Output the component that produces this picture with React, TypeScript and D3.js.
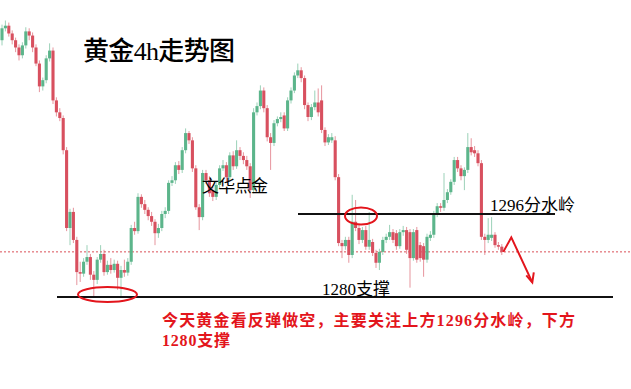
import React from 'react';
import * as d3 from 'd3';

// Gold 4h candles: [open, high, low, close]
const candles: [number, number, number, number][] = [
  [1329.5, 1332.5, 1328.5, 1331.8], [1331.8, 1333.3, 1331.2, 1332.3], [1332.3, 1332.9, 1330.2, 1330.8],
  [1330.8, 1331.4, 1328.7, 1329.5], [1329.5, 1330.0, 1327.2, 1328.1], [1328.1, 1328.7, 1325.6, 1326.6],
  [1326.6, 1329.1, 1326.0, 1328.5], [1328.5, 1332.0, 1327.9, 1331.2], [1331.2, 1331.8, 1329.5, 1330.4],
  [1330.4, 1331.0, 1327.2, 1328.1], [1328.1, 1328.7, 1324.5, 1325.0], [1325.0, 1325.6, 1319.5, 1320.6],
  [1320.6, 1322.3, 1319.8, 1321.8], [1321.8, 1326.6, 1321.2, 1326.0], [1326.0, 1328.9, 1325.4, 1327.5],
  [1327.5, 1328.1, 1317.2, 1317.9], [1317.9, 1318.5, 1314.8, 1315.6], [1315.6, 1316.4, 1313.9, 1314.5],
  [1314.5, 1315.0, 1307.5, 1308.3], [1308.3, 1308.9, 1292.7, 1293.3], [1293.3, 1297.0, 1290.0, 1296.4],
  [1296.4, 1297.2, 1290.4, 1291.0], [1291.0, 1291.6, 1282.3, 1284.8], [1284.8, 1286.8, 1282.9, 1284.5],
  [1284.5, 1287.5, 1283.9, 1286.8], [1286.8, 1290.0, 1286.2, 1287.7], [1287.7, 1288.3, 1283.3, 1284.3],
  [1284.3, 1285.0, 1280.0, 1283.3], [1283.3, 1287.7, 1282.5, 1287.2], [1287.2, 1290.0, 1286.6, 1288.3],
  [1288.3, 1289.1, 1284.1, 1284.8], [1284.8, 1287.0, 1284.3, 1286.2], [1286.2, 1287.5, 1284.5, 1285.2],
  [1285.2, 1287.2, 1284.7, 1286.4], [1286.4, 1287.0, 1281.4, 1283.7], [1283.7, 1286.0, 1280.0, 1285.2],
  [1285.2, 1287.2, 1283.9, 1284.7], [1284.7, 1287.5, 1284.1, 1286.8], [1286.8, 1293.9, 1286.2, 1293.3],
  [1293.3, 1294.5, 1292.0, 1292.7], [1292.7, 1300.0, 1292.2, 1299.3], [1299.3, 1299.8, 1297.2, 1297.9],
  [1297.9, 1298.7, 1296.0, 1296.8], [1296.8, 1297.3, 1294.8, 1295.6], [1295.6, 1296.4, 1293.7, 1294.5],
  [1294.5, 1295.0, 1290.0, 1292.3], [1292.3, 1294.1, 1291.4, 1293.3], [1293.3, 1296.6, 1292.7, 1296.0],
  [1296.0, 1297.3, 1295.2, 1296.6], [1296.6, 1302.5, 1296.0, 1302.0], [1302.0, 1303.3, 1301.4, 1302.5],
  [1302.5, 1306.0, 1301.8, 1305.4], [1305.4, 1306.2, 1303.7, 1304.5], [1304.5, 1308.9, 1303.9, 1308.3],
  [1308.3, 1312.5, 1307.7, 1311.6], [1311.6, 1312.0, 1309.5, 1310.2], [1310.2, 1310.8, 1304.1, 1304.8],
  [1304.8, 1305.4, 1296.8, 1297.3], [1297.3, 1297.9, 1292.9, 1295.4], [1295.4, 1304.5, 1294.8, 1303.9],
  [1303.9, 1304.5, 1301.8, 1302.5], [1302.5, 1303.3, 1299.3, 1300.0], [1300.6, 1301.2, 1298.5, 1299.3],
  [1299.3, 1302.2, 1298.7, 1301.6], [1301.6, 1305.4, 1301.0, 1304.8], [1304.8, 1306.4, 1304.3, 1305.4],
  [1305.4, 1306.0, 1302.3, 1303.1], [1303.1, 1307.9, 1302.5, 1307.3], [1307.3, 1308.1, 1304.5, 1305.2],
  [1305.2, 1310.2, 1304.7, 1308.3], [1308.3, 1308.9, 1306.4, 1307.2], [1307.2, 1307.9, 1305.6, 1306.4],
  [1306.4, 1307.2, 1304.5, 1305.2], [1305.2, 1305.8, 1299.1, 1300.6], [1300.6, 1316.4, 1300.0, 1315.6],
  [1315.6, 1317.5, 1315.0, 1316.8], [1316.8, 1320.8, 1316.2, 1319.8], [1319.8, 1320.4, 1315.6, 1316.4],
  [1316.4, 1317.0, 1310.0, 1310.8], [1310.8, 1311.6, 1304.5, 1309.7], [1309.7, 1314.1, 1309.1, 1313.5],
  [1313.5, 1314.8, 1312.9, 1314.3], [1314.3, 1315.6, 1313.7, 1314.7], [1315.0, 1315.6, 1312.0, 1312.5],
  [1312.5, 1318.5, 1312.0, 1317.9], [1317.9, 1320.4, 1317.3, 1319.8], [1319.8, 1323.3, 1319.3, 1322.7],
  [1322.7, 1325.0, 1322.2, 1323.7], [1323.7, 1324.3, 1321.4, 1322.2], [1322.2, 1322.7, 1316.2, 1317.0],
  [1317.0, 1317.5, 1313.9, 1314.7], [1314.7, 1317.2, 1314.1, 1316.6], [1316.6, 1319.8, 1316.0, 1317.5],
  [1317.5, 1320.2, 1314.8, 1315.6], [1317.9, 1320.8, 1311.6, 1312.2], [1312.2, 1312.7, 1309.1, 1309.8],
  [1309.8, 1311.4, 1309.3, 1310.8], [1310.2, 1311.6, 1309.7, 1310.8], [1310.2, 1311.0, 1302.5, 1303.1],
  [1303.1, 1303.7, 1289.8, 1290.4], [1290.4, 1291.0, 1287.5, 1289.8], [1289.8, 1291.6, 1289.1, 1291.0],
  [1291.0, 1291.6, 1286.6, 1288.1], [1288.1, 1299.7, 1287.5, 1294.5], [1294.5, 1298.7, 1292.7, 1293.3],
  [1293.3, 1293.9, 1290.2, 1291.0], [1291.0, 1293.5, 1290.4, 1292.9], [1292.9, 1293.7, 1289.1, 1289.7],
  [1289.7, 1296.4, 1289.1, 1291.0], [1290.6, 1291.2, 1287.9, 1288.5], [1288.5, 1289.1, 1285.6, 1286.6],
  [1286.6, 1289.3, 1285.2, 1288.7], [1288.7, 1291.6, 1288.1, 1291.0], [1291.0, 1292.2, 1290.4, 1291.6],
  [1291.6, 1293.9, 1291.0, 1292.5], [1292.5, 1293.1, 1290.4, 1291.0], [1292.3, 1292.9, 1289.1, 1289.8],
  [1289.8, 1293.1, 1289.3, 1292.5], [1292.5, 1293.7, 1291.8, 1292.9], [1292.9, 1293.5, 1288.3, 1289.1],
  [1292.5, 1293.1, 1281.8, 1287.5], [1287.5, 1293.1, 1287.0, 1292.5], [1292.9, 1293.5, 1286.6, 1287.2],
  [1290.0, 1290.6, 1286.8, 1287.5], [1289.8, 1290.4, 1283.9, 1287.2], [1287.2, 1292.2, 1286.6, 1291.6],
  [1291.4, 1292.7, 1290.8, 1292.0], [1292.0, 1296.6, 1291.4, 1296.0], [1296.0, 1298.1, 1295.4, 1297.5],
  [1297.5, 1298.1, 1296.4, 1297.2], [1297.2, 1303.9, 1296.6, 1298.7], [1298.7, 1300.8, 1298.1, 1300.2],
  [1300.2, 1302.7, 1299.7, 1302.2], [1302.2, 1307.0, 1301.6, 1306.4], [1306.4, 1307.0, 1304.1, 1304.8],
  [1304.8, 1305.4, 1302.5, 1303.3], [1303.3, 1305.0, 1300.6, 1304.5], [1304.5, 1311.6, 1303.9, 1308.9],
  [1308.9, 1310.6, 1307.3, 1307.9], [1308.3, 1309.1, 1307.0, 1307.7], [1307.7, 1308.3, 1305.2, 1305.8],
  [1305.8, 1306.4, 1291.0, 1291.6], [1291.6, 1292.2, 1288.1, 1291.0], [1291.0, 1295.2, 1290.4, 1292.0],
  [1291.4, 1295.4, 1290.8, 1292.0], [1292.0, 1292.5, 1289.5, 1290.0], [1290.0, 1290.6, 1289.1, 1289.7],
  [1289.7, 1290.2, 1288.1, 1288.7],
];

// Key price levels
const resistanceLevel = 1296;
const supportLevel = 1280;

// Text
const titleText = '黄金4h走势图';
const watermarkText = '文华点金';
const resistanceLabel = '1296分水岭';
const supportLabel = '1280支撑';
const noteLines = ['今天黄金看反弹做空，主要关注上方1296分水岭，下方', '1280支撑'];

const W = 631;
const H = 389;
const UP = '#5cb58b';
const DOWN = '#d8505f';
const MARK_RED = '#e3151c';
const FONT = '"Liberation Serif", "Noto Sans CJK SC", serif';

export default function App() {
  const x = d3.scaleLinear().domain([0, candles.length - 1]).range([2, 501.8]);
  const y = d3.scaleLinear().domain([supportLevel, resistanceLevel]).range([297, 214]);
  const bodyW = 3.1;
  const lastClose = candles[candles.length - 1][3];
  const lastX = x(candles.length - 1);

  const arrow = d3.line()([
    [lastX + 1.5, y(lastClose)],
    [lastX + 9.5, y(lastClose) - 14.5],
    [lastX + 30.5, y(lastClose) + 30.5],
  ]);
  const tipX = lastX + 30.5;
  const tipY = y(lastClose) + 30.5;
  const head = d3.line()([
    [tipX - 6, tipY - 7],
    [tipX, tipY],
    [tipX + 1.5, tipY - 10],
  ]);

  return (
    <svg
      width={W}
      height={H}
      style={{ position: 'absolute', left: 0, top: 0, background: '#fff' }}
    >
      <rect width={W} height={H} fill="#fff" />

      {/* current price line */}
      <line
        x1={0}
        x2={W}
        y1={y(lastClose)}
        y2={y(lastClose)}
        stroke="#d4323c"
        strokeWidth={1}
        strokeDasharray="2,2"
        opacity={0.85}
      />

      {/* candles */}
      <g>
        {candles.map(([o, h, l, c], i) => {
          const up = c >= o;
          const col = up ? UP : DOWN;
          const top = y(Math.max(o, c));
          const bot = y(Math.min(o, c));
          return (
            <g key={i}>
              <line
                x1={x(i)}
                x2={x(i)}
                y1={y(h)}
                y2={y(l)}
                stroke={col}
                strokeWidth={1}
                opacity={0.6}
              />
              <rect
                x={x(i) - bodyW / 2}
                y={top}
                width={bodyW}
                height={Math.max(1.5, bot - top)}
                fill={col}
              />
            </g>
          );
        })}
      </g>

      {/* support / resistance lines */}
      <line x1={298} x2={555} y1={y(resistanceLevel)} y2={y(resistanceLevel)} stroke="#111" strokeWidth={2} />
      <line x1={57} x2={613} y1={y(supportLevel)} y2={y(supportLevel)} stroke="#111" strokeWidth={2} />

      {/* highlighted zones */}
      <ellipse cx={107.5} cy={y(supportLevel) - 2.5} rx={29.5} ry={7.5} fill="none" stroke={MARK_RED} strokeWidth={2} />
      <ellipse cx={361} cy={y(resistanceLevel) + 2} rx={16} ry={8.5} fill="none" stroke={MARK_RED} strokeWidth={2} />

      {/* projected move */}
      <path d={arrow ?? ''} fill="none" stroke={MARK_RED} strokeWidth={2} strokeLinejoin="miter" />
      <path d={head ?? ''} fill="none" stroke={MARK_RED} strokeWidth={2} />

      {/* labels */}
      <text x={83} y={60} fontSize={26} fontWeight={500} fontFamily={FONT} fill="#000" textLength={152} lengthAdjust="spacing">
        {titleText}
      </text>
      <text x={202} y={192} fontSize={17} fontFamily={FONT} fill="#000" textLength={66} lengthAdjust="spacing">
        {watermarkText}
      </text>
      <text x={490} y={211} fontSize={17} fontFamily={FONT} fill="#000" textLength={85} lengthAdjust="spacing">
        {resistanceLabel}
      </text>
      <text x={322} y={295} fontSize={17} fontFamily={FONT} fill="#000" textLength={68} lengthAdjust="spacing">
        {supportLabel}
      </text>
      {noteLines.map((t, i) => (
        <text
          key={i}
          x={162}
          y={326 + i * 20}
          fontSize={16}
          fontWeight="bold"
          fontFamily={FONT}
          fill={MARK_RED}
          textLength={i === 0 ? 413 : 68}
          lengthAdjust="spacing"
        >
          {t}
        </text>
      ))}
    </svg>
  );
}
